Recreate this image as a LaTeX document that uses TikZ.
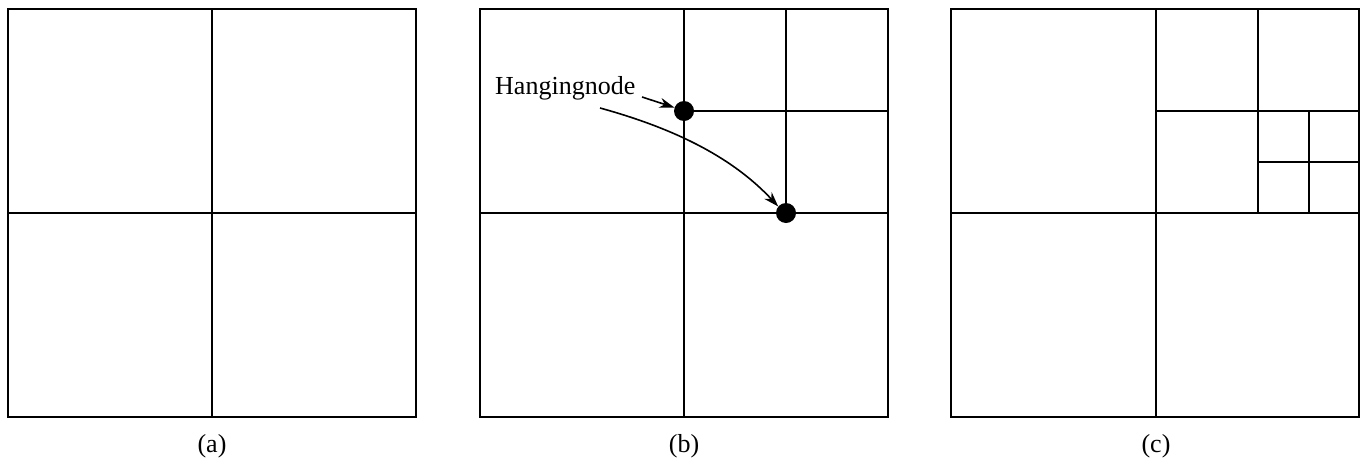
\documentclass[tikz,border=0pt]{standalone}
\usepackage{fontspec}
\setmainfont{Liberation Serif}
\usetikzlibrary{arrows.meta}
\begin{document}
\begin{tikzpicture}[x=1pt,y=-1pt,
  grid/.style={line width=2.2pt},
  hnode/.style={circle,fill=black,inner sep=0pt,minimum size=20pt},
  capt/.style={font=\fontsize{26}{30}\selectfont},
  ptr/.style={line width=1.6pt,-{Stealth[length=15pt,width=10pt]}}]
\useasboundingbox (0,0) rectangle (1364,461);
% (a)
\draw[grid] (8,9) rectangle (416,417);
\draw[grid] (212,9) -- (212,417);
\draw[grid] (8,213) -- (416,213);
\node[capt] (la) at (212,446) {(a)};
% (b)
\draw[grid] (480,9) rectangle (888,417);
\draw[grid] (684,9) -- (684,417);
\draw[grid] (480,213) -- (888,213);
\draw[grid] (786,9) -- (786,213);
\draw[grid] (684,111) -- (888,111);
\node[hnode] (h1) at (684,111) {};
\node[hnode] (h2) at (786,213) {};
\node[capt,anchor=west,inner sep=0pt] (hl) at (495,88) {Hangingnode};
\coordinate (s1) at (642,97);
\coordinate (s2) at (600,108);
\draw[ptr] (s1) -- (h1.160);
\draw[ptr] (s2) .. controls (680,130) and (735,160) .. (h2.140);
\node[capt] (lb) at (684,446) {(b)};
% (c)
\draw[grid] (951,9) rectangle (1359,417);
\draw[grid] (1156,9) -- (1156,417);
\draw[grid] (951,213) -- (1359,213);
\draw[grid] (1258,9) -- (1258,213);
\draw[grid] (1156,111) -- (1359,111);
\draw[grid] (1309,111) -- (1309,213);
\draw[grid] (1258,162) -- (1359,162);
\node[capt] (lc) at (1156,446) {(c)};
\end{tikzpicture}
\end{document}
